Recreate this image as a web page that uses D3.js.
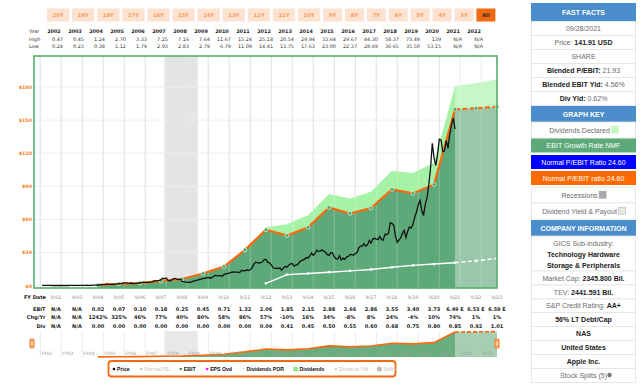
<!DOCTYPE html>
<html>
<head>
<meta charset="utf-8">
<script src="https://cdn.jsdelivr.net/npm/d3@7"></script>
<style>
  body { margin: 0; background: #fff; }
  svg { display: block; font-family: "DejaVu Sans", Verdana, sans-serif; }
  .sans { font-family: "Liberation Sans", Arial, sans-serif; }
</style>
</head>
<body>
<svg id="chart" width="640" height="385"></svg>
<script>
// ---- data ----
const rangeButtons = ["20Y","19Y","18Y","17Y","16Y","15Y","14Y","13Y","12Y","11Y","10Y","9Y","8Y","7Y","6Y","5Y","4Y","3Y","All"];

const tableYears = [2002,2003,2004,2005,2006,2007,2008,2009,2010,2011,2012,2013,2014,2015,2016,2017,2018,2019,2020,2021,2022];
const tableHigh = ["0.47","0.45","1.24","2.70","3.33","7.25","7.16","7.64","11.67","15.24","25.18","20.54","29.94","33.64","29.67","44.30","58.37","73.49","139","N/A","N/A"];
const tableLow  = ["0.24","0.23","0.38","1.12","1.79","2.93","2.83","2.79","6.79","11.09","14.41","13.75","17.63","23.00","22.37","28.69","36.65","35.50","53.15","N/A","N/A"];

const fyYears = [2002,2003,2004,2005,2006,2007,2008,2009,2010,2011,2012,2013,2014,2015,2016,2017,2018,2019,2020,2021,2022,2023];
const ebit    = [null,null,0.02,0.07,0.10,0.18,0.25,0.45,0.71,1.32,2.06,1.85,2.15,2.88,2.66,2.86,3.55,3.40,3.73,6.49,6.53,6.59];
const ebitEstimate = [false,false,false,false,false,false,false,false,false,false,false,false,false,false,false,false,false,false,false,true,true,true];
const chgYr   = ["N/A","N/A","1242%","325%","46%","77%","40%","80%","58%","86%","57%","-10%","16%","34%","-8%","8%","24%","-4%","10%","74%","1%","1%"];
const divs    = [null,null,0,0,0,0,0,0,0,0,0.09,0.41,0.45,0.50,0.55,0.60,0.68,0.75,0.80,0.85,0.92,1.01];
const normalPE = 24.60;

// month-end closing prices, Jan 2002 .. Sep 2021
const priceStartYear = 2002;
const priceMonthly = [
  0.44,0.39,0.42,0.43,0.42,0.32,0.27,0.26,0.26,0.29,0.28,0.26,
  0.26,0.27,0.25,0.25,0.32,0.34,0.38,0.40,0.37,0.41,0.37,0.38,
  0.40,0.43,0.48,0.46,0.50,0.58,0.58,0.62,0.69,0.94,1.20,1.15,
  1.37,1.60,1.49,1.29,1.42,1.31,1.52,1.67,1.91,2.05,2.42,2.57,
  2.70,2.44,2.24,2.52,2.13,2.04,2.42,2.43,2.75,2.90,3.27,3.03,
  3.07,3.01,3.32,3.56,4.34,4.36,4.71,4.94,5.48,6.78,6.52,7.07,
  4.83,4.47,5.12,6.21,6.75,5.98,5.67,6.05,4.06,3.84,3.31,3.05,
  3.22,3.20,3.75,4.49,4.85,5.09,5.84,6.00,6.62,6.73,7.12,7.53,
  6.86,7.31,8.39,9.33,9.18,8.98,9.19,8.69,10.13,10.73,11.12,11.52,
  12.12,12.65,12.45,12.44,12.42,11.99,13.95,13.72,13.62,14.46,13.74,14.46,
  16.30,19.37,21.41,20.88,20.63,20.86,21.81,23.76,23.82,21.25,20.88,19.01,
  16.27,15.81,15.81,15.81,16.06,14.15,16.16,17.40,17.03,18.68,19.87,20.04,
  17.88,18.79,19.17,21.07,22.61,23.23,23.90,25.61,25.19,27.00,29.73,27.59,
  29.29,32.19,31.11,31.29,32.57,31.36,30.33,28.19,27.57,29.88,29.82,26.31,
  24.34,24.17,27.25,23.43,24.97,23.90,26.05,26.53,28.26,28.39,27.63,28.96,
  30.34,34.25,35.92,35.91,38.19,36.01,37.18,41.00,38.53,42.26,42.96,42.31,
  41.86,44.53,41.95,41.31,46.72,46.28,47.57,56.91,56.44,54.72,44.65,39.44,
  41.61,43.29,47.49,50.17,43.77,49.48,53.26,52.19,55.99,62.19,66.81,73.41,
  77.38,68.34,63.57,73.45,79.49,91.20,106.26,129.04,115.81,108.86,119.05,132.69,
  131.96,121.26,122.15,131.46,124.61,136.96,145.86,151.83,141.91
];

const recessions = [["2007-12-01", "2009-06-30"]];
const yTicks = [0, 30, 60, 90, 120, 150, 180];
const firstEstimateYear = 2021;

const legendItems = ["Price","Normal PE","EBIT","EPS Ovd","Dividends POR","Dividends","Dividend Yld","Splits"];
const legendColors = ["#111","#c8c8c8","#2f9a4c","#ff00ff","#d9f2d9","#8fe88f","#d0d0d0","#bdbdbd"];
const legendActive = [true,false,true,true,true,true,false,false];

// ---- setup ----
const svg = d3.select('#chart');
const fyDate = yr => new Date(yr, 8, 30);
const x = d3.scaleTime()
    .domain([new Date(2001, 8, 13), new Date(2023, 8, 30)])
    .range([34, 497]);
const y = d3.scaleLinear().domain([-2, 208]).range([288, 56]);
const plotTop = 56, plotBottom = 288, plotLeft = 34, plotRight = 497;

// ---- range buttons ----
let bx = 47;
rangeButtons.forEach(function(label) {
    const w = label.length === 3 && label !== 'All' ? 22.2 : 19;
    const isAll = label === 'All';
    svg.append('rect')
        .attr('x', bx).attr('y', 8.5).attr('width', w).attr('height', 13)
        .attr('fill', isAll ? '#f26a10' : '#fde2cf');
    svg.append('text')
        .attr('x', bx + w / 2).attr('y', 16.8)
        .attr('text-anchor', 'middle')
        .attr('font-size', 5.2).attr('font-weight', 'bold')
        .attr('fill', isAll ? '#2b2b2b' : '#f49a5c')
        .text(label);
    bx += w + 2.9;
});

// ---- year / high / low table ----
const tbl = svg.append('g').attr('font-size', 4.9).attr('fill', '#333');
[['Year', 32.5], ['High', 40.5], ['Low', 48]].forEach(function(r) {
    tbl.append('text').attr('x', 29).attr('y', r[1]).text(r[0]);
});
tableYears.forEach(function(yr, i) {
    const cx = x(fyDate(yr));
    tbl.append('text').attr('x', cx - 2).attr('y', 32.5).attr('text-anchor', 'middle')
        .attr('font-weight', 'bold').attr('fill', '#222').text(yr);
    tbl.append('text').attr('x', cx + 7).attr('y', 40.5).attr('text-anchor', 'end').text(tableHigh[i]);
    tbl.append('text').attr('x', cx + 7).attr('y', 48).attr('text-anchor', 'end').text(tableLow[i]);
});

// ---- plot background pieces ----
const plot = svg.append('g');
plot.append('rect').attr('x', plotLeft).attr('y', plotTop)
    .attr('width', plotRight - plotLeft).attr('height', plotBottom - plotTop).attr('fill', '#fff');

recessions.forEach(function(r) {
    const x0 = x(new Date(r[0])), x1 = x(new Date(r[1]));
    plot.append('rect').attr('x', x0).attr('y', plotTop).attr('width', x1 - x0)
        .attr('height', plotBottom - plotTop).attr('fill', '#e4e4e4');
});

plot.selectAll('.hgrid').data(yTicks).enter().append('line')
    .attr('x1', plotLeft).attr('x2', plotRight)
    .attr('y1', d => y(d)).attr('y2', d => y(d))
    .attr('stroke', '#eeeeee').attr('stroke-width', 1);

const gridYears = d3.range(2002, 2024).map(yr => new Date(yr, 0, 1));
plot.selectAll('.vgrid').data(gridYears).enter().append('line')
    .attr('x1', d => x(d)).attr('x2', d => x(d))
    .attr('y1', plotTop).attr('y2', plotBottom)
    .attr('stroke', '#e2e2e2').attr('stroke-width', 1.3);

// ---- valuation areas ----
const fy = fyYears.map(function(yr, i) {
    return { date: fyDate(yr), year: yr, e: ebit[i], d: divs[i] };
}).filter(d => d.e !== null);

const areaLight = d3.area()
    .x(d => x(d.date))
    .y0(d => y(d.e * normalPE))
    .y1(d => y((d.e + d.d) * normalPE));
const areaDark = d3.area()
    .x(d => x(d.date))
    .y0(plotBottom)
    .y1(d => y(d.e * normalPE));

plot.append('path').datum(fy).attr('d', areaLight).attr('fill', '#a6f2a6');
plot.append('path').datum(fy).attr('d', areaDark).attr('fill', '#5ea979');

// grid showing faintly through the fill
plot.selectAll('.vgrid2').data(gridYears).enter().append('line')
    .attr('x1', d => x(d)).attr('x2', d => x(d))
    .attr('y1', plotTop).attr('y2', plotBottom)
    .attr('stroke', '#fff').attr('stroke-opacity', 0.18).attr('stroke-width', 1.3);

// estimates zone washed out
const estX = x(fyDate(firstEstimateYear));
plot.append('rect').attr('x', estX).attr('y', plotTop)
    .attr('width', plotRight - estX).attr('height', plotBottom - plotTop)
    .attr('fill', '#fff').attr('fill-opacity', 0.36);

// ---- dividend line (white) ----
const divPts = fy.filter(d => d.d > 0);
const divLine = d3.line().x(d => x(d.date)).y(d => y(d.d * normalPE));
plot.append('path').datum(divPts.filter(d => d.year <= firstEstimateYear))
    .attr('d', divLine).attr('fill', 'none').attr('stroke', '#fff').attr('stroke-width', 1.4);
plot.append('path').datum(divPts.filter(d => d.year >= firstEstimateYear))
    .attr('d', divLine).attr('fill', 'none').attr('stroke', '#fff').attr('stroke-width', 1.4)
    .attr('stroke-dasharray', '4,2.5');
plot.selectAll('.divdot').data(divPts).enter().append('circle')
    .attr('cx', d => x(d.date)).attr('cy', d => y(d.d * normalPE)).attr('r', 1.4)
    .attr('fill', '#fff');

// ---- EBIT x normal PE line (orange) ----
const ebitLine = d3.line().x(d => x(d.date)).y(d => y(d.e * normalPE));
plot.append('path').datum(fy.filter(d => d.year <= firstEstimateYear))
    .attr('d', ebitLine).attr('fill', 'none').attr('stroke', '#f96a0e').attr('stroke-width', 2.2);
plot.append('path').datum(fy.filter(d => d.year >= firstEstimateYear))
    .attr('d', ebitLine).attr('fill', 'none').attr('stroke', '#f96a0e').attr('stroke-width', 2.2)
    .attr('stroke-dasharray', '5,2.5');
plot.selectAll('.edot').data(fy).enter().append('circle')
    .attr('cx', d => x(d.date)).attr('cy', d => y(d.e * normalPE)).attr('r', 1.9)
    .attr('fill', '#4f9e69').attr('stroke', '#d6f3d6').attr('stroke-width', 0.8);

// ---- price line ----
const prices = priceMonthly.map((v, i) => ({ date: new Date(priceStartYear, i + 1, 0), v: v }));
plot.append('path').datum(prices)
    .attr('d', d3.line().x(d => x(d.date)).y(d => y(d.v)))
    .attr('fill', 'none').attr('stroke', '#111').attr('stroke-width', 1.3);

// ---- border ----
plot.append('rect').attr('x', plotLeft).attr('y', plotTop)
    .attr('width', plotRight - plotLeft).attr('height', plotBottom - plotTop)
    .attr('fill', 'none').attr('stroke', '#55ad6e').attr('stroke-width', 1.6);

// ---- axes text ----
svg.selectAll('.ylab').data(yTicks).enter().append('text')
    .attr('x', 32).attr('y', d => y(d) + 1.8).attr('text-anchor', 'end')
    .attr('font-size', 4.8).attr('font-weight', 'bold').attr('fill', '#f47c20')
    .text(d => '$' + d);

svg.append('text').attr('x', 46).attr('y', 298.8).attr('text-anchor', 'end')
    .attr('font-size', 5).attr('font-weight', 'bold').attr('fill', '#222').text('FY Date');
svg.selectAll('.xlab').data(fyYears).enter().append('text')
    .attr('x', d => x(fyDate(d))).attr('y', 298.8).attr('text-anchor', 'middle')
    .attr('font-size', 4.8).attr('fill', '#8a8a8a')
    .text(d => '9/' + String(d).slice(2));

// ---- EBIT / Chg / Div table ----
const bt = svg.append('g').attr('font-size', 5).attr('font-weight', 'bold').attr('fill', '#222');
[['EBIT', 310.8], ['Chg/Yr', 319.2], ['Div', 327.6]].forEach(function(r) {
    bt.append('text').attr('x', 45.5).attr('y', r[1]).attr('text-anchor', 'end').text(r[0]);
});
fyYears.forEach(function(yr, i) {
    const cx = x(fyDate(yr));
    const et = ebit[i] === null ? 'N/A' : ebit[i].toFixed(2) + (ebitEstimate[i] ? ' E' : '');
    const dt = divs[i] === null ? 'N/A' : divs[i].toFixed(2);
    bt.append('text').attr('x', cx).attr('y', 310.8).attr('text-anchor', 'middle').text(et);
    bt.append('text').attr('x', cx).attr('y', 319.2).attr('text-anchor', 'middle').text(chgYr[i]);
    bt.append('text').attr('x', cx).attr('y', 327.6).attr('text-anchor', 'middle').text(dt);
});

// ---- navigator ----
const navTop = 331, navBottom = 357;
const ny = d3.scaleLinear().domain([0, 166]).range([navBottom, navTop]);
const nav = svg.append('g');
nav.selectAll('.ngrid').data(gridYears).enter().append('line')
    .attr('x1', d => x(d)).attr('x2', d => x(d)).attr('y1', navTop).attr('y2', navBottom)
    .attr('stroke', '#ececec').attr('stroke-width', 1);
recessions.forEach(function(r) {
    const x0 = x(new Date(r[0])), x1 = x(new Date(r[1]));
    nav.append('rect').attr('x', x0).attr('y', navTop).attr('width', x1 - x0)
        .attr('height', navBottom - navTop).attr('fill', '#e8e8e8');
});
nav.append('path').datum(fy)
    .attr('d', d3.area().x(d => x(d.date)).y0(navBottom).y1(d => ny(d.e * normalPE)))
    .attr('fill', '#6aae80');
nav.append('rect').attr('x', estX).attr('y', navTop).attr('width', plotRight - estX)
    .attr('height', navBottom - navTop).attr('fill', '#fff').attr('fill-opacity', 0.4);
const navLine = d3.line().x(d => x(d.date)).y(d => ny(d.e * normalPE));
nav.append('path').datum(fy.filter(d => d.year <= firstEstimateYear))
    .attr('d', navLine).attr('fill', 'none').attr('stroke', '#f96a0e').attr('stroke-width', 1.6);
nav.append('path').datum(fy.filter(d => d.year >= firstEstimateYear))
    .attr('d', navLine).attr('fill', 'none').attr('stroke', '#f96a0e').attr('stroke-width', 1.6)
    .attr('stroke-dasharray', '4,2');
nav.selectAll('.nlab').data(fyYears).enter().append('text')
    .attr('x', d => x(fyDate(d)) - 9).attr('y', 354.5).attr('text-anchor', 'middle')
    .attr('font-size', 4.5).attr('fill', '#9c9c9c')
    .text(d => 'FY' + String(d).slice(2));
[plotLeft - 2, plotRight].forEach(function(hx) {
    nav.append('rect').attr('x', hx - 2.2).attr('y', 339).attr('width', 4.4).attr('height', 9)
        .attr('rx', 1).attr('fill', '#f7a35c').attr('stroke', '#f26a10').attr('stroke-width', 0.6);
    nav.append('line').attr('x1', hx - 0.6).attr('x2', hx - 0.6).attr('y1', 341.5).attr('y2', 345.5)
        .attr('stroke', '#fff').attr('stroke-width', 0.5);
    nav.append('line').attr('x1', hx + 0.6).attr('x2', hx + 0.6).attr('y1', 341.5).attr('y2', 345.5)
        .attr('stroke', '#fff').attr('stroke-width', 0.5);
});

// ---- legend ----
const lg = svg.append('g').attr('class', 'sans');
lg.append('rect').attr('x', 108.5).attr('y', 361).attr('width', 287).attr('height', 15.5).attr('rx', 3)
    .attr('fill', '#fff').attr('stroke', '#f26a10').attr('stroke-width', 1.8);
let lx = 114;
legendItems.forEach(function(name, i) {
    const big = name === 'Dividends' || name === 'Splits';
    lg.append('circle').attr('cx', lx).attr('cy', 369).attr('r', big ? 2.6 : 1.3).attr('fill', legendColors[i]);
    const t = lg.append('text').attr('x', lx + (big ? 4 : 3)).attr('y', 370.8)
        .attr('font-size', 5.2).attr('font-weight', legendActive[i] ? 'bold' : 'normal')
        .attr('fill', legendActive[i] ? '#111' : '#c4c4c4').text(name);
    lx += (big ? 4 : 3) + t.node().getComputedTextLength() + 11.5;
});

// ---- right panel ----
const px0 = 531, px1 = 636, pcx = (px0 + px1) / 2;
const panel = svg.append('g').attr('class', 'sans').attr('font-size', 7);
function headRow(top, h, label) {
    panel.append('rect').attr('x', px0).attr('y', top).attr('width', px1 - px0).attr('height', h).attr('fill', '#4b8dcb');
    panel.append('text').attr('x', pcx).attr('y', top + h / 2 + 2.5).attr('text-anchor', 'middle')
        .attr('font-weight', 'bold').attr('fill', '#fff').text(label);
}
function colorRow(top, h, fill, label) {
    panel.append('rect').attr('x', px0).attr('y', top).attr('width', px1 - px0).attr('height', h).attr('fill', fill);
    panel.append('text').attr('x', pcx).attr('y', top + h / 2 + 2.5).attr('text-anchor', 'middle')
        .attr('fill', '#fff').text(label);
}
function textRow(top, h, parts, swatch) {
    panel.append('rect').attr('x', px0 + 0.5).attr('y', top).attr('width', px1 - px0 - 1).attr('height', h)
        .attr('fill', '#fff').attr('stroke', '#e3e3e3').attr('stroke-width', 0.8);
    const t = panel.append('text').attr('x', pcx).attr('y', top + h / 2 + 2.5).attr('text-anchor', 'middle');
    parts.forEach(function(p) {
        t.append('tspan').attr('font-weight', p[1] ? 'bold' : 'normal').attr('fill', p[1] ? '#222' : '#6a6a6a').text(p[0]);
    });
    if (swatch) {
        const w = t.node().getComputedTextLength();
        t.attr('x', pcx - 4);
        panel.append('rect').attr('x', pcx - 4 + w / 2 + 1.5).attr('y', top + h / 2 - 3.8).attr('width', 7).attr('height', 7)
            .attr('fill', swatch[0]).attr('stroke', swatch[1]).attr('stroke-width', 0.6);
    }
}
headRow(3, 18, 'FAST FACTS');
textRow(21.5, 14, [['09/28/2021', false]]);
textRow(35.5, 14, [['Price: ', false], ['141.91 USD', true]]);
textRow(49.5, 14, [['SHARE', false]]);
textRow(63.5, 14, [['Blended P/EBIT: ', true], ['21.93', false]]);
textRow(77.5, 14, [['Blended EBIT Yld: ', true], ['4.56%', false]]);
textRow(91.5, 14, [['Div Yld: ', true], ['0.62%', false]]);
headRow(106, 16, 'GRAPH KEY');
textRow(122, 16, [['Dividends Declared', false]], ['#c6f5bf', '#c6f5bf']);
colorRow(138.5, 14, '#5ea979', 'EBIT Growth Rate NMF');
colorRow(155, 14, '#0000ff', 'Normal P/EBIT Ratio 24.60');
colorRow(171, 14, '#ff6a00', 'Normal P/EBIT ratio 24.60');
textRow(187, 16, [['Recessions', false]], ['#a8a8a8', '#a8a8a8']);
textRow(203, 16, [['Dividend Yield & Payout', false]], ['#e2ecdc', '#b8b8b8']);
headRow(220, 16, 'COMPANY INFORMATION');
panel.append('rect').attr('x', px0 + 0.5).attr('y', 236).attr('width', px1 - px0 - 1).attr('height', 35)
    .attr('fill', '#fff').attr('stroke', '#e3e3e3').attr('stroke-width', 0.8);
panel.append('text').attr('x', pcx).attr('y', 245.5).attr('text-anchor', 'middle').attr('fill', '#6a6a6a').text('GICS Sub-industry:');
panel.append('text').attr('x', pcx).attr('y', 257).attr('text-anchor', 'middle').attr('font-weight', 'bold').attr('fill', '#222').text('Technology Hardware');
panel.append('text').attr('x', pcx).attr('y', 267.5).attr('text-anchor', 'middle').attr('font-weight', 'bold').attr('fill', '#222').text('Storage & Peripherals');
textRow(271, 14, [['Market Cap: ', false], ['2345.800 Bil.', true]]);
textRow(285, 14, [['TEV: ', false], ['2441.591 Bil.', true]]);
textRow(299, 13.5, [['S&P Credit Rating: ', false], ['AA+', true]]);
textRow(312.5, 14, [['56% LT Debt/Cap', true]]);
textRow(326.5, 14, [['NAS', true]]);
textRow(340.5, 14, [['United States', true]]);
textRow(354.5, 14, [['Apple Inc.', true]]);
textRow(368.5, 14, [['Stock Splits (5)', false]]);
panel.append('circle').attr('cx', pcx + 26).attr('cy', 375).attr('r', 2.2).attr('fill', '#777');
</script>
</body>
</html>
